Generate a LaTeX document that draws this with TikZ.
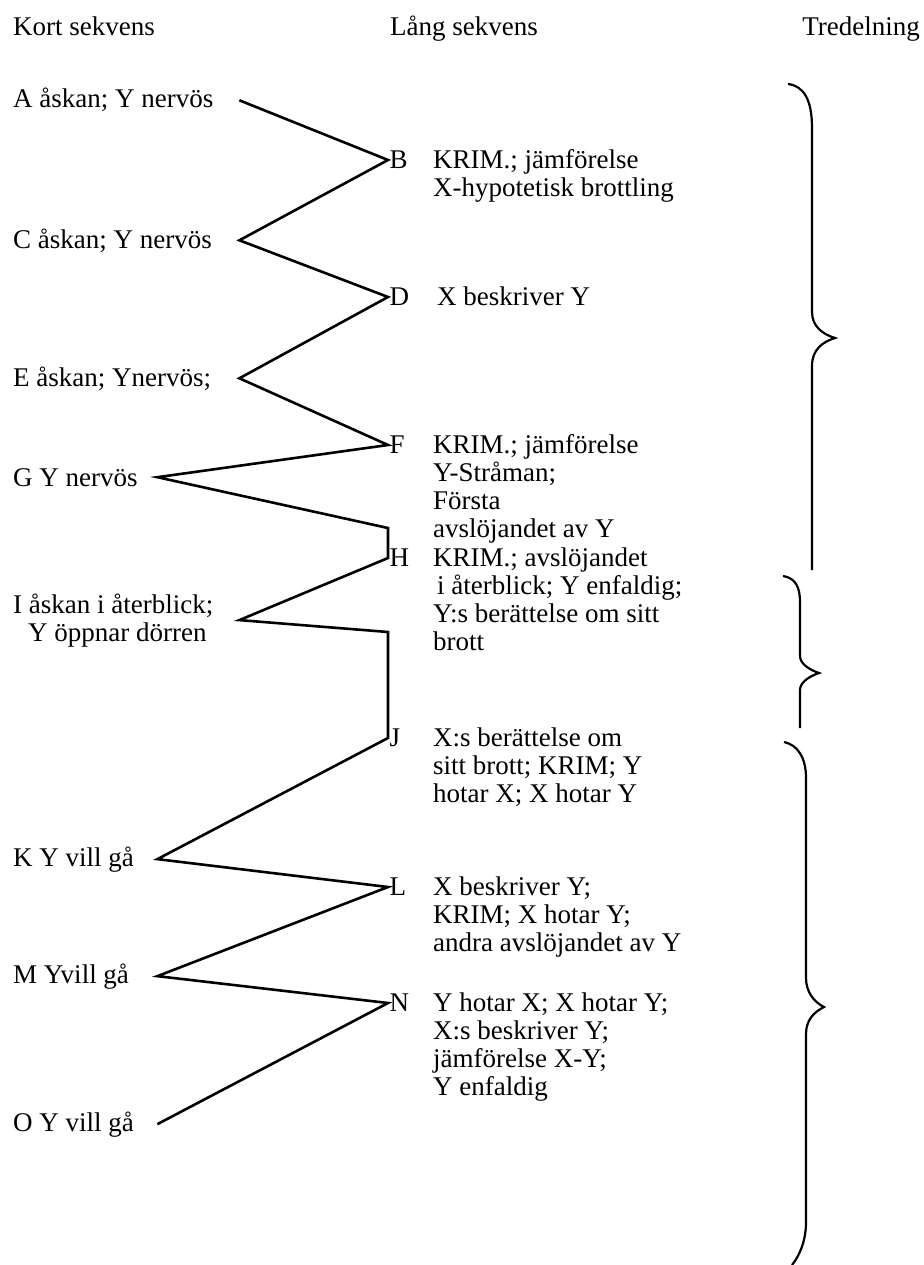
\documentclass[tikz,border=0pt]{standalone}
\usepackage{fontspec}
\setmainfont{Liberation Serif}
\usetikzlibrary{positioning}

\tikzset{
  sekv/.style={inner sep=0pt, anchor=base west, align=flush left, font=\fontsize{27}{28}\selectfont},
  kortlang/.style={sekv, text width=226pt},
  kortkort/.style={sekv, text width=144pt},
  langtext/.style={sekv, text width=300pt},
  bokstav/.style={inner ysep=0pt, inner xsep=1.5pt, anchor=west, font=\fontsize{27}{28}\selectfont},
  sicksack/.style={line width=2.6pt},
  klammer/.style={line width=2.2pt},
}

\begin{document}
\begin{tikzpicture}[x=1pt, y=-1pt]
        \useasboundingbox (0,0) rectangle (923,1265);

        % Column heads
        \node[sekv] (kort) at (13,36) {Kort sekvens};
        \node[sekv] (lang) at (390,36) {Lång sekvens};
        \node[sekv, anchor=base east] (tre) at (920,36) {Tredelning};

        % Short sequence
        \node[kortlang] (A) at (13,108) {A åskan; Y nervös};
        \node[kortlang] (C) at (13,248) {C åskan; Y nervös};
        \node[kortlang] (E) at (13,386) {E åskan; Ynervös;};
        \node[kortkort] (G) at (13,486) {G Y nervös};
        \node[kortlang] (I) at (13,613) {I åskan i återblick;\\\hspace*{15pt}Y öppnar dörren};
        \node[kortkort] (K) at (13,866) {K Y vill gå};
        \node[kortkort] (M) at (13,983) {M Yvill gå};
        \node[kortkort] (O) at (13,1131) {O Y vill gå};

        % Long sequence
        \coordinate (col) at (433,0);
        \node[bokstav] (B) at (388,160) {B};
        \node[bokstav] (D) at (388,297) {D};
        \node[bokstav] (F) at (388,445) {F};
        \node[bokstav] (H) at (388,558) {H};
        \node[bokstav] (J) at (388,738) {J};
        \node[bokstav] (L) at (388,887) {L};
        \node[bokstav] (N) at (388,1003) {N};

        \node[langtext] (Btxt) at (B.base -| col) {KRIM.; jämförelse\\X-hypotetisk brottling};
        \node[langtext] (Dtxt) at (D.base -| col) {\hspace*{4pt}X beskriver Y};
        \node[langtext] (Ftxt) at (F.base -| col) {KRIM.; jämförelse\\Y-Stråman;\\Första\\avslöjandet av Y};
        \node[langtext] (Htxt) at (H.base -| col) {KRIM.; avslöjandet\\\hspace*{4pt}i återblick; Y enfaldig;\\Y:s berättelse om sitt\\brott};
        \node[langtext] (Jtxt) at (J.base -| col) {X:s berättelse om\\sitt brott; KRIM; Y\\hotar X; X hotar Y};
        \node[langtext] (Ltxt) at (L.base -| col) {X beskriver Y;\\KRIM; X hotar Y;\\andra avslöjandet av Y};
        \node[langtext] (Ntxt) at (N.base -| col) {Y hotar X; X hotar Y;\\X:s beskriver Y;\\jämförelse X-Y;\\Y enfaldig};

        % Zigzag between the two sequences
        \draw[sicksack] (A.east) -- (B.west) -- (C.east) -- (D.west) -- (E.east) -- (F.west)
            -- (G.east) -- ([yshift=30pt]H.west) -- (H.west) -- (I.east)
            -- ([yshift=106pt]J.west) -- (J.west) -- (K.east) -- (L.west)
            -- (M.east) -- (N.west) -- (O.east);

        % Braces for the three parts
        \draw[klammer] (788,84) .. controls (804,86) and (812,100) .. (812,128) -- (812,312)
            .. controls (812,326) and (822,334) .. (835,338) .. controls (822,342) and (812,350) .. (812,366) -- (812,570);
        \draw[klammer] (783,576) .. controls (796,578) and (800,588) .. (800,602) -- (800,656)
            .. controls (800,664) and (810,670) .. (819,673) .. controls (810,676) and (800,682) .. (800,690) -- (800,728);
        \draw[klammer] (784,742) .. controls (798,745) and (806,758) .. (806,778) -- (806,978)
            .. controls (806,992) and (814,1002) .. (824,1007) .. controls (814,1012) and (806,1020) .. (806,1034) -- (806,1222)
            .. controls (806,1240) and (800,1255) .. (792,1265);
\end{tikzpicture}
\end{document}
